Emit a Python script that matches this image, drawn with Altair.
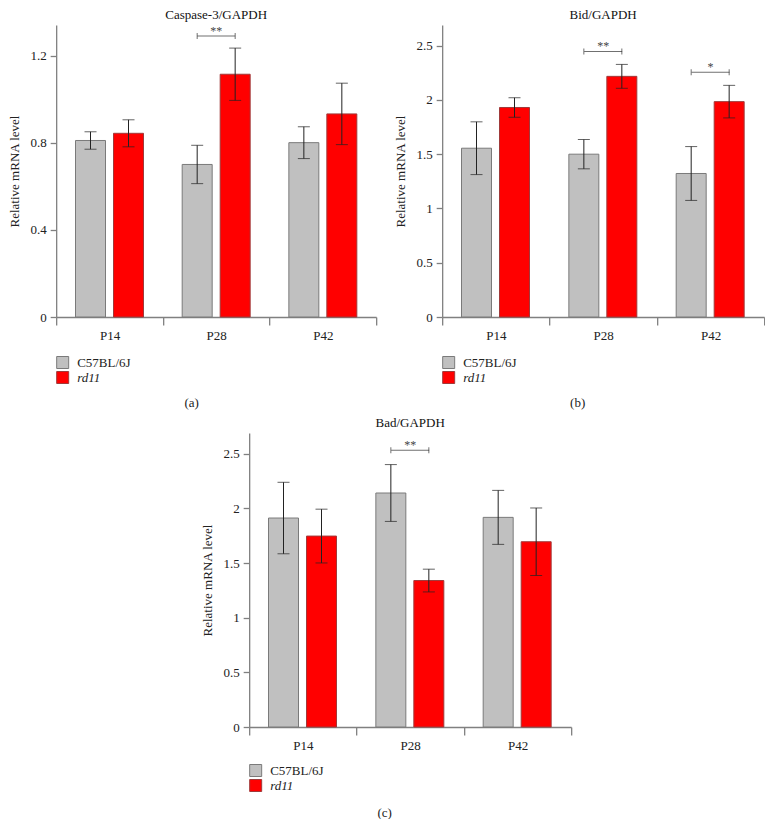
import altair as alt
import pandas as pd

categories = ["P14", "P28", "P42"]
groups = ["C57BL/6J", "rd11"]

casp_wt = [0.81, 0.70, 0.80]
casp_wt_err = [0.04, 0.088, 0.073]
casp_rd = [0.843, 1.114, 0.932]
casp_rd_err = [0.062, 0.12, 0.141]

bid_wt = [1.555, 1.50, 1.322]
bid_wt_err = [0.243, 0.135, 0.248]
bid_rd = [1.93, 2.217, 1.984]
bid_rd_err = [0.09, 0.11, 0.15]

bad_wt = [1.912, 2.141, 1.918]
bad_wt_err = [0.327, 0.26, 0.247]
bad_rd = [1.747, 1.34, 1.695]
bad_rd_err = [0.246, 0.104, 0.309]

casp_sig = [("P28", 1.29, "**")]
bid_sig = [("P28", 2.447, "**"), ("P42", 2.254, "*")]
bad_sig = [("P28", 2.533, "**")]

casp_ticks = [0, 0.4, 0.8, 1.2]
bidbad_ticks = [0, 0.5, 1, 1.5, 2, 2.5]

FONT = "Liberation Serif"
AXIS_GRAY = "#808080"


def panel(title, wt, wt_err, rd, rd_err, sig, ymax, yticks, caption, width, height):
    rows = []
    for i, c in enumerate(categories):
        rows.append(dict(cat=c, grp=groups[0], val=wt[i], lo=wt[i] - wt_err[i], hi=wt[i] + wt_err[i]))
        rows.append(dict(cat=c, grp=groups[1], val=rd[i], lo=rd[i] - rd_err[i], hi=rd[i] + rd_err[i]))
    df = pd.DataFrame(rows)
    sig_df = pd.DataFrame([dict(cat=c, level=l, label=t) for c, l, t in sig])
    end_df = pd.DataFrame([dict(cat=c, grp=g, level=l) for c, l, t in sig for g in groups])

    yscale = alt.Scale(domain=[0, ymax], nice=False, zero=True)
    yaxis = alt.Axis(values=yticks, labelExpr="'' + datum.value", title="Relative mRNA level", grid=False,
                     tickSize=6, labelPadding=4, titlePadding=8)
    xscale = alt.Scale(domain=categories, paddingInner=0, paddingOuter=0)
    xaxis = alt.Axis(title=caption, titleX=135, titleY=85, titleBaseline="middle",
                     labelAngle=0, tickBand="extent", tickSize=8, labelPadding=4, grid=False)
    off = alt.XOffset("grp:N", sort=groups,
                      scale=alt.Scale(domain=groups, paddingInner=0.2105, paddingOuter=0.509))

    def X():
        return alt.X("cat:N", sort=categories, scale=xscale, axis=xaxis)

    def Y(field):
        return alt.Y(field, type="quantitative", scale=yscale, axis=yaxis)

    base = alt.Chart(df)
    bars = base.mark_bar(strokeWidth=1).encode(
        x=X(), xOffset=off, y=Y("val"),
        color=alt.Color("grp:N", scale=alt.Scale(domain=groups, range=["#c0c0c0", "#ff0000"]),
                        legend=alt.Legend(orient="none", legendX=0, legendY=331, title=None,
                                          symbolType="square", symbolSize=144, symbolOpacity=1,
                                          symbolStrokeColor="#7a7a7a", symbolStrokeWidth=1,
                                          labelFont=FONT, labelFontSize=13, labelColor="#222",
                                          labelOffset=8, rowPadding=-2, padding=0,
                                          labelFontStyle=alt.ExprRef(expr="datum.label == 'rd11' ? 'italic' : 'normal'"))),
        stroke=alt.Stroke("grp:N", scale=alt.Scale(domain=groups, range=["#7a7a7a", "#a03a3a"]), legend=None),
    )
    err = base.mark_rule(color="#222", strokeWidth=1).encode(x=X(), xOffset=off, y=Y("lo"), y2="hi")
    cap_lo = base.mark_tick(color="#222", size=12, thickness=1, orient="horizontal").encode(x=X(), xOffset=off, y=Y("lo"))
    cap_hi = base.mark_tick(color="#222", size=12, thickness=1, orient="horizontal").encode(x=X(), xOffset=off, y=Y("hi"))
    br = alt.Chart(sig_df).mark_tick(color="#333", size=38, thickness=1, orient="horizontal").encode(x=X(), y=Y("level"))
    ends = alt.Chart(end_df).mark_tick(color="#333", size=6, thickness=1, orient="vertical").encode(x=X(), xOffset=off, y=Y("level"))
    txt = alt.Chart(sig_df).mark_text(font=FONT, fontSize=12, color="#444", baseline="alphabetic", dy=-1).encode(
        x=X(), y=Y("level"), text="label:N")

    return alt.layer(bars, err, cap_lo, cap_hi, br, ends, txt).properties(
        width=width, height=height,
        title=alt.TitleParams(title, font=FONT, fontSize=13, fontWeight="normal", color="#111", offset=3, anchor="middle"),
    )


a = panel("Caspase-3/GAPDH", casp_wt, casp_wt_err, casp_rd, casp_rd_err, casp_sig, 1.34, casp_ticks, "(a)", 320, 292)
b = panel("Bid/GAPDH", bid_wt, bid_wt_err, bid_rd, bid_rd_err, bid_sig, 2.69, bidbad_ticks, "(b)", 322, 292)
c = panel("Bad/GAPDH", bad_wt, bad_wt_err, bad_rd, bad_rd_err, bad_sig, 2.69, bidbad_ticks, "(c)", 322, 294)

top = alt.hconcat(a, b, spacing=17).resolve_scale(color="independent", stroke="independent").resolve_legend(color="independent")
chart = alt.vconcat(top, c, spacing=8, center=True).resolve_scale(
    color="independent", stroke="independent").resolve_legend(color="independent").properties(
    padding=0).configure_view(stroke=None).configure_axis(
    domainColor=AXIS_GRAY, tickColor=AXIS_GRAY, domainWidth=1.3, tickWidth=1.3,
    labelFont=FONT, labelFontSize=13, labelColor="#222",
    titleFont=FONT, titleFontSize=13, titleFontWeight="normal", titleColor="#222",
)

chart.save("out.html", embed_options={"renderer": "svg", "actions": False})
